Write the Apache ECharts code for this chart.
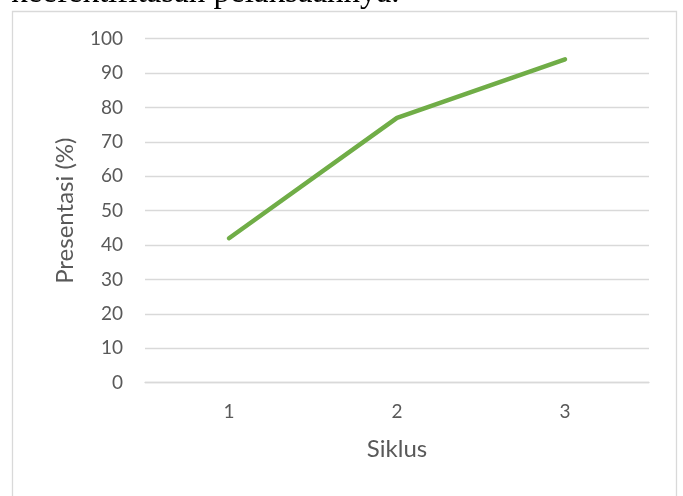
<!DOCTYPE html>
<html>
<head>
<meta charset="utf-8">
<script src="https://cdn.jsdelivr.net/npm/echarts@6/dist/echarts.min.js"></script>
<style>
html,body{margin:0;padding:0;background:#fff;}
#chart{width:683px;height:496px;}
</style>
</head>
<body>
<div id="chart"></div>
<script>
const categories = ['1', '2', '3'];
const values = [42, 77, 94];
const yTitle = 'Presentasi (%)';
const xTitle = 'Siklus';
const captionText = 'keefektifitasan pelaksaannya.';

const chart = echarts.init(document.getElementById('chart'), null, {renderer: 'canvas'});
chart.setOption({
  backgroundColor: '#ffffff',
  animation: false,
  graphic: [
    {
      type: 'rect',
      shape: {x: 12.5, y: 11.5, width: 664, height: 500},
      style: {fill: 'none', stroke: '#d9d9d9', lineWidth: 1.3},
      silent: true
    },
    {
      type: 'text',
      left: 11,
      top: -23,
      style: {
        text: captionText,
        font: '33px "Liberation Serif", "Times New Roman", serif',
        fill: '#000000'
      }
    }
  ],
  grid: {left: 145, right: 34, top: 38.7, bottom: 113.3, containLabel: false},
  xAxis: {
    type: 'category',
    data: categories,
    boundaryGap: true,
    name: xTitle,
    nameLocation: 'middle',
    nameGap: 55,
    nameTextStyle: {color: '#595959', fontFamily: 'Lato', fontSize: 24},
    axisLine: {show: true, lineStyle: {color: '#d9d9d9', width: 1.3}},
    axisTick: {show: false},
    axisLabel: {color: '#595959', fontFamily: 'Lato', fontSize: 19, margin: 20}
  },
  yAxis: {
    type: 'value',
    min: 0,
    max: 100,
    interval: 10,
    name: yTitle,
    nameLocation: 'middle',
    nameGap: 68,
    nameRotate: 90,
    nameTextStyle: {color: '#595959', fontFamily: 'Lato', fontSize: 24},
    axisLine: {show: false},
    axisTick: {show: false},
    axisLabel: {color: '#595959', fontFamily: 'Lato', fontSize: 19, margin: 22},
    splitLine: {show: true, lineStyle: {color: '#d9d9d9', width: 1.3}}
  },
  series: [{
    type: 'line',
    data: values,
    symbol: 'none',
    lineStyle: {color: '#70ad47', width: 4.5, cap: 'round', join: 'round'},
    itemStyle: {color: '#70ad47'}
  }]
});
</script>
</body>
</html>
